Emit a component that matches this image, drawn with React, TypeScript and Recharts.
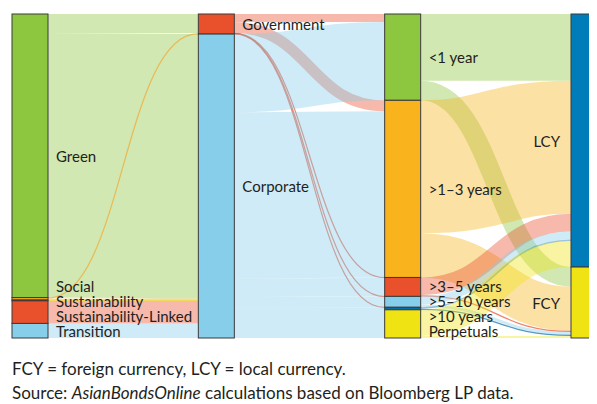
import React from 'react';
import { Sankey } from 'recharts';

// Columns of the flow
const labelTypes = ['Green', 'Social', 'Sustainability', 'Sustainability-Linked', 'Transition'];
const issuerTypes = ['Government', 'Corporate'];
const tenors = ['<1 year', '>1–3 years', '>3–5 years', '>5–10 years', '>10 years', 'Perpetuals'];
const currencies = ['LCY', 'FCY'];

// Flows (share of issuance)
const labelToIssuer: [string, string, number][] = [
  ['Green', 'Government', 19],
  ['Green', 'Corporate', 263.5],
  ['Social', 'Government', 1],
  ['Social', 'Corporate', 1.5],
  ['Sustainability', 'Corporate', 0.8],
  ['Sustainability-Linked', 'Corporate', 22.5],
  ['Transition', 'Corporate', 14.5],
];

const issuerToTenor: [string, string, number][] = [
  ['Government', '<1 year', 8],
  ['Government', '>1–3 years', 11],
  ['Government', '>3–5 years', 0.35],
  ['Government', '>5–10 years', 0.35],
  ['Government', '>10 years', 0.3],
  ['Corporate', '<1 year', 78],
  ['Corporate', '>1–3 years', 165.5],
  ['Corporate', '>3–5 years', 18.5],
  ['Corporate', '>5–10 years', 10.5],
  ['Corporate', '>10 years', 2.2],
  ['Corporate', 'Perpetuals', 28.1],
];

const tenorToCurrency: [string, string, number][] = [
  ['<1 year', 'LCY', 66.5],
  ['<1 year', 'FCY', 19.5],
  ['>1–3 years', 'LCY', 132.5],
  ['>1–3 years', 'FCY', 44],
  ['>3–5 years', 'LCY', 17.6],
  ['>3–5 years', 'FCY', 1.25],
  ['>5–10 years', 'LCY', 8],
  ['>5–10 years', 'FCY', 2.85],
  ['>10 years', 'LCY', 1.5],
  ['>10 years', 'FCY', 1],
  ['Perpetuals', 'LCY', 26],
  ['Perpetuals', 'FCY', 2.1],
];

const nodeColors: Record<string, string> = {
  Green: '#8DC63F',
  Social: '#F5A52A',
  Sustainability: '#F2DF1E',
  'Sustainability-Linked': '#E9502C',
  Transition: '#87CEEB',
  Government: '#E9502C',
  Corporate: '#87CEEB',
  '<1 year': '#8DC63F',
  '>1–3 years': '#F8B31D',
  '>3–5 years': '#E9502C',
  '>5–10 years': '#87CEEB',
  '>10 years': '#0A6EA8',
  Perpetuals: '#EFE314',
  LCY: '#007DB8',
  FCY: '#EFE314',
};

const columns = [labelTypes, issuerTypes, tenors, currencies];
const allNodes = columns.flat();
const allFlows = [...labelToIssuer, ...issuerToTenor, ...tenorToCurrency];

const data = {
  nodes: allNodes.map((name) => ({ name })),
  links: allFlows.map(([s, t, v]) => ({
    source: allNodes.indexOf(s),
    target: allNodes.indexOf(t),
    value: v,
  })),
};

const nodeValue = (name: string) => {
  const inflow = allFlows.filter((f) => f[1] === name).reduce((a, f) => a + f[2], 0);
  const outflow = allFlows.filter((f) => f[0] === name).reduce((a, f) => a + f[2], 0);
  return Math.max(inflow, outflow);
};

const FONT = 'Lato, "Open Sans", sans-serif';
const TEXT = '#231F20';

const SankeyNode = (props: any) => {
  const { x, y, width, height, payload } = props;
  const name: string = payload.name;
  const col = columns.findIndex((c) => c.includes(name));
  const column = columns[col];
  const idx = column.indexOf(name);
  const ratio = height / Math.max(payload.value, 1e-9);
  // bottom of the column, derived from this node's laid-out position
  const below = column.slice(idx + 1).reduce((a, n) => a + nodeValue(n), 0);
  const colBottom = y + height + below * ratio;
  // group of small nodes at the bottom of a column gets stacked labels
  let k = -1;
  let count = 0;
  for (let i = column.length - 1; i >= 0; i--) {
    if (nodeValue(column[i]) * ratio < 30) {
      if (column[i] === name) k = count;
      count++;
    } else break;
  }
  const labelY = k >= 0 && count > 1 ? colBottom - 7 - 15 * k : y + height / 2;
  const isLast = col === columns.length - 1;
  const labelX = isLast ? x - 11 : x + width + 8;
  return (
    <g>
      <rect
        x={x}
        y={y}
        width={width}
        height={height}
        fill={nodeColors[name]}
        stroke="#3a3a3a"
        strokeWidth={1}
      />
      <text
        x={labelX}
        y={labelY}
        textAnchor={isLast ? 'end' : 'start'}
        dominantBaseline="central"
        fontFamily={FONT}
        fontSize={15}
        fill={TEXT}
      >
        {name}
      </text>
    </g>
  );
};

const SankeyLink = (props: any) => {
  const { sourceX, sourceY, sourceControlX, targetX, targetY, targetControlX, linkWidth, index } = props;
  const src = allFlows[index][0];
  const thin = linkWidth < 1.5;
  return (
    <path
      d={`M${sourceX},${sourceY} C${sourceControlX},${sourceY} ${targetControlX},${targetY} ${targetX},${targetY}`}
      fill="none"
      stroke={nodeColors[src]}
      strokeWidth={thin ? Math.max(linkWidth, 1.2) : linkWidth}
      strokeOpacity={thin ? 0.7 : 0.4}
    />
  );
};

export default function App() {
  return (
    <div style={{ width: 589, overflow: 'hidden', fontFamily: FONT }}>
      <Sankey
        width={599}
        height={342}
        data={data}
        nodeWidth={36}
        nodePadding={0}
        iterations={0}
        linkCurvature={0.5}
        margin={{ top: 6, left: 4, right: 0, bottom: 12 }}
        node={<SankeyNode />}
        link={<SankeyLink />}
      />
      <div style={{ marginTop: 7, paddingLeft: 4, fontSize: 17, lineHeight: '24px', color: TEXT }}>
        <div>FCY = foreign currency, LCY = local currency.</div>
        <div>
          Source: <i>AsianBondsOnline</i> calculations based on Bloomberg LP data.
        </div>
      </div>
    </div>
  );
}
